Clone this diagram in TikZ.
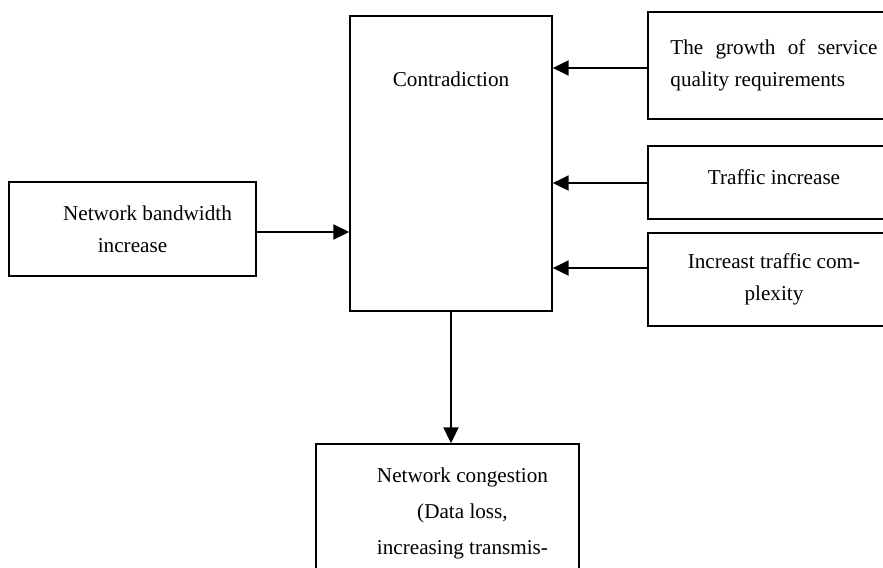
\documentclass[tikz,border=0pt]{standalone}
\usepackage{fontspec}
\setmainfont{Liberation Serif}
\usetikzlibrary{arrows.meta}
\tikzset{
  box/.style={draw, line width=0.9pt, inner sep=0pt},
  arr/.style={line width=1.1pt, -{Triangle[length=9pt,width=8.5pt]}}
}
\begin{document}
\begin{tikzpicture}[x=0.567pt, y=-0.567pt, font=\fontsize{12}{18}\selectfont]
  \useasboundingbox (0,0) rectangle (883,567);
  \node[box, minimum width=114.5pt, minimum height=167.3pt,
    label={[anchor=north, inner sep=0pt, yshift=-31.8pt]north:Contradiction}]
    (contra) at (451,163.5) {};
  \node[box, minimum width=142.9pt, minimum height=60.7pt,
    text width=117.4pt, align=justify]
    (qos) at (774,65.5) {The growth of service quality requirements};
  \node[box, minimum width=142.9pt, minimum height=41.4pt, text depth=5.7pt]
    (traffic) at (774,182.5) {Traffic increase};
  \node[box, minimum width=142.9pt, minimum height=52.7pt, align=center]
    (complex) at (774,279.5) {Increast traffic com-\\plexity};
  \node[box, minimum width=140pt, minimum height=53.3pt, align=center]
    (bw) at (132.5,229) {\hspace*{17pt}Network bandwidth\\increase};
  \node[box, minimum width=149.1pt, minimum height=111.1pt,
    label={[anchor=north, inner sep=0pt, xshift=8.5pt, yshift=-13.6pt,
      align=center, font=\fontsize{12}{20.4}\selectfont]north:{Network congestion\\(Data loss,\\increasing transmis-}}]
    (congest) at (447.5,542) {};
  % connectors
  \draw[arr] ([yshift=-1.7pt]bw.east) -- ([yshift=-1.7pt]bw.east -| contra.west);
  \draw[arr] ([yshift=-1.4pt]qos.west) -- ([yshift=-1.4pt]qos.west -| contra.east);
  \draw[arr] ([yshift=-0.3pt]traffic.west) -- ([yshift=-0.3pt]traffic.west -| contra.east);
  \draw[arr] ([yshift=6.5pt]complex.west) -- ([yshift=6.5pt]complex.west -| contra.east);
  \draw[arr] (contra.south) -- (contra.south |- congest.north);
\end{tikzpicture}
\end{document}
